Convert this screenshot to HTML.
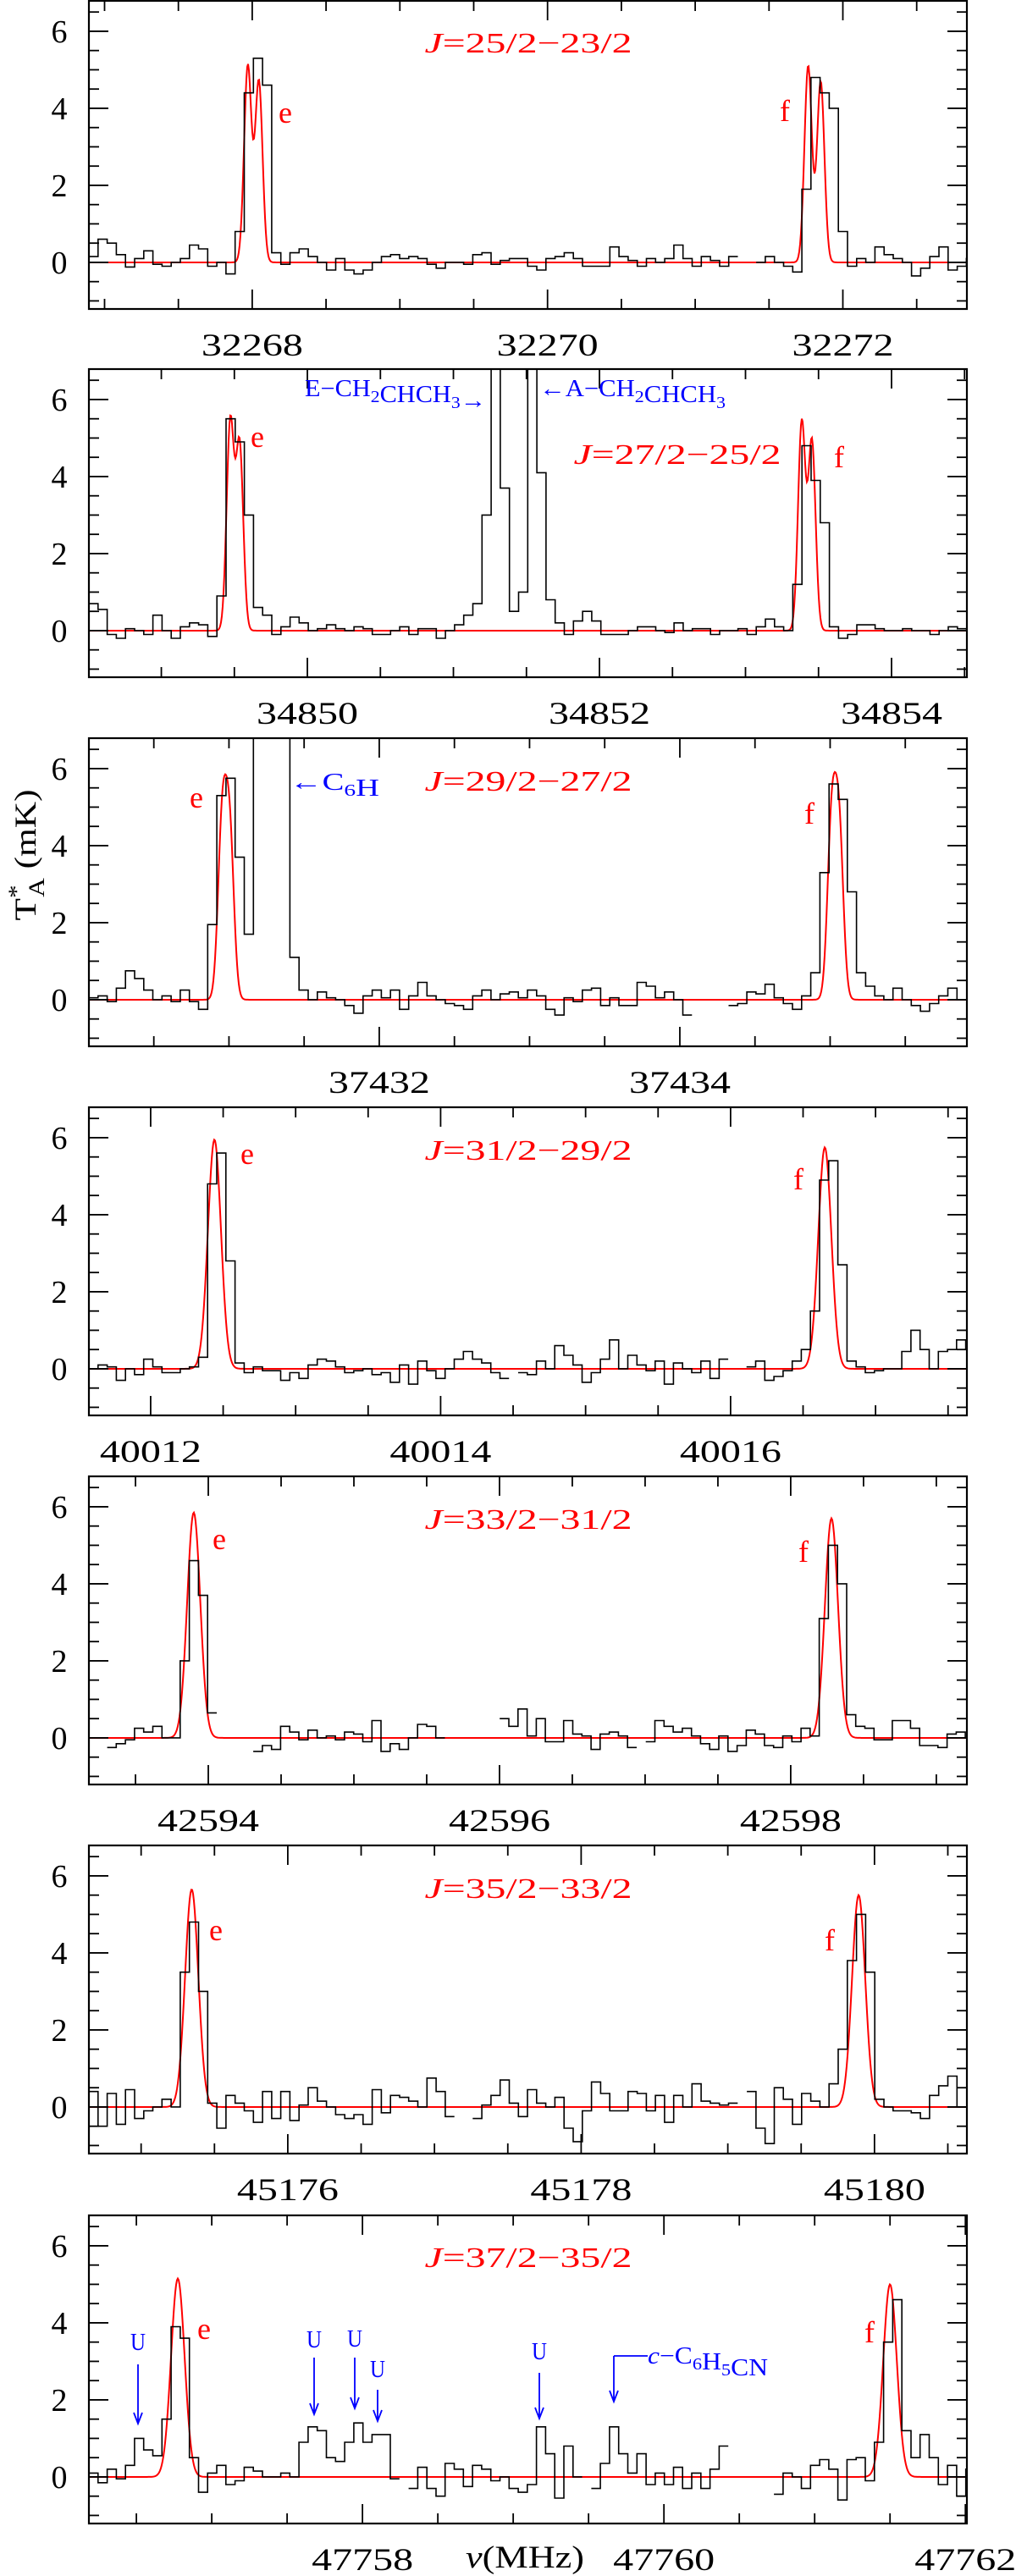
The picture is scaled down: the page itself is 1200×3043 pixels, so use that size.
<!DOCTYPE html>
<html><head><meta charset="utf-8"><title>Spectra</title>
<style>html,body{margin:0;padding:0;background:#fff;}svg{display:block;}</style>
</head><body>
<svg id="chart" xmlns="http://www.w3.org/2000/svg" width="1200" height="3043" viewBox="0 0 1200 3043" font-family="'Liberation Serif', serif">
<rect x="0" y="0" width="1200" height="3043" fill="#fff"/>
</svg>
<script>
// ---------- data ----------
const p1Values=[0.15,0.6,0.5,0.2,-0.12,0.1,0.3,-0.05,-0.1,0.0,0.1,0.45,0.35,-0.1,0.0,-0.3,0.8,4.4,5.3,4.6,0.25,-0.05,0.25,0.35,0.15,0.0,-0.2,0.1,-0.2,-0.3,-0.2,0.0,0.15,0.2,0.1,0.15,0.1,-0.05,-0.15,0.0,0.0,-0.05,0.2,0.25,-0.05,0.05,0.1,0.1,-0.1,-0.2,0.1,0.15,0.25,0.1,-0.1,-0.1,-0.1,0.4,0.15,0.05,-0.1,0.1,0.0,0.1,0.45,0.1,-0.1,0.15,0.05,-0.1,0.15,null,null,0.0,0.15,0.0,-0.1,-0.25,1.9,4.8,4.4,4.0,0.8,-0.1,0.1,0.0,0.4,0.2,0.1,0.0,-0.35,-0.15,0.15,0.4,-0.2,-0.1,0.1];
const p2Values=[0.7,0.55,-0.1,-0.2,0.05,0.0,-0.1,0.4,0.0,-0.2,0.1,0.2,0.15,-0.15,0.9,5.5,4.9,3.0,0.6,0.4,-0.1,0.1,0.35,0.2,0.0,0.05,0.15,0.05,0.0,0.1,0.05,-0.1,-0.1,0.0,0.1,-0.1,0.05,0.05,-0.2,0.0,0.15,0.4,0.7,3.0,8.0,3.7,0.5,1.0,8.0,4.1,0.8,0.2,-0.1,0.25,0.5,0.25,-0.1,-0.1,-0.1,0.0,0.1,0.1,0.0,-0.05,0.2,0.0,0.05,0.05,-0.1,0.0,0.0,0.05,-0.1,0.1,0.3,0.1,0.0,1.2,4.8,3.9,2.8,0.1,-0.2,-0.1,0.15,0.15,0.05,0.0,0.0,0.05,0.0,0.0,-0.1,0.0,0.1,0.05,0.0];
const p3Values=[0.05,0.1,-0.05,0.3,0.75,0.55,0.25,0.0,0.1,-0.05,0.25,-0.05,-0.25,1.95,5.3,5.75,3.7,1.7,8.0,8.0,8.0,8.0,1.1,0.25,0.0,0.2,0.05,0.0,-0.15,-0.35,0.1,0.25,0.05,0.25,-0.25,0.1,0.45,0.1,0.0,-0.1,-0.15,-0.25,0.1,0.25,0.0,0.15,0.2,0.05,0.25,0.1,-0.25,-0.4,0.05,-0.05,0.25,0.3,-0.15,0.05,-0.15,-0.15,0.45,0.35,0.05,0.2,0.0,-0.4,null,null,null,null,-0.15,-0.1,0.2,0.15,0.4,0.05,-0.1,-0.25,0.1,0.7,3.3,5.6,5.2,2.8,0.7,0.35,0.1,0.0,0.3,0.0,-0.15,-0.3,-0.1,0.1,0.3,0.0,0.0];
const p4Values=[0.0,0.1,0.05,-0.3,0.0,-0.15,0.25,0.05,-0.1,-0.1,0.0,0.05,0.3,4.8,5.6,2.8,0.15,-0.1,0.05,-0.05,-0.05,-0.3,-0.1,-0.25,0.1,0.25,0.2,0.05,-0.1,-0.05,0.0,-0.15,-0.1,-0.35,0.1,-0.4,0.2,-0.05,-0.25,0.0,0.25,0.45,0.25,0.15,-0.1,-0.25,null,-0.1,-0.15,0.2,0.0,0.6,0.35,0.1,-0.35,-0.1,0.25,0.75,0.0,0.35,0.1,-0.05,0.2,-0.4,0.15,0.0,-0.1,0.2,-0.25,0.25,null,null,0.05,0.2,-0.3,-0.2,-0.05,0.2,0.5,1.5,4.9,5.4,2.7,0.2,0.05,-0.1,-0.05,0.0,0.0,0.45,1.0,0.5,0.0,0.45,0.5,0.75,0.5];
const p5Values=[null,null,-0.25,-0.15,-0.05,0.25,0.15,0.3,0.0,0.0,2.0,4.6,3.7,0.65,null,null,null,null,-0.35,-0.2,-0.3,0.3,0.15,-0.05,0.2,0.0,0.05,-0.05,0.15,0.1,-0.1,0.45,-0.35,-0.15,-0.3,0.0,0.35,0.3,0.0,null,null,null,null,null,null,0.5,0.3,0.75,0.05,0.5,-0.1,-0.1,0.45,0.1,0.05,-0.3,0.1,0.15,0.05,-0.25,null,-0.1,0.45,0.3,0.15,0.25,0.05,-0.15,-0.3,0.05,-0.35,-0.2,0.2,0.1,-0.2,-0.25,0.05,-0.1,0.25,0.05,3.1,5.0,4.0,0.6,0.3,0.25,-0.05,-0.05,0.45,0.45,0.25,-0.2,-0.2,-0.25,0.1,0.15,0.0];
const p6Values=[0.4,-0.5,0.35,-0.45,0.45,-0.3,-0.1,0.0,0.2,0.0,3.5,4.8,3.0,0.1,-0.55,0.3,0.1,-0.1,-0.4,0.4,-0.3,0.4,-0.35,0.05,0.5,0.15,0.0,-0.2,-0.3,-0.2,-0.45,0.45,-0.15,0.3,0.25,0.15,0.0,0.75,0.4,-0.25,null,null,-0.3,0.05,0.3,0.7,0.1,-0.25,0.45,0.1,0.0,0.25,-0.55,-0.9,-0.1,0.65,0.35,-0.1,-0.1,0.4,0.35,-0.1,0.3,-0.4,0.3,0.0,0.6,0.15,0.1,0.05,0.1,null,0.4,-0.55,-0.95,0.5,0.2,-0.45,0.35,0.15,0.0,0.6,1.5,3.8,5.0,3.5,0.2,0.0,-0.1,-0.1,-0.15,-0.3,0.3,0.55,0.8,0.0];
const p7Values=[0.1,-0.15,0.2,-0.05,0.3,1.0,0.7,0.55,1.5,3.9,3.6,0.5,-0.4,0.1,0.3,-0.2,-0.1,0.25,0.15,0.0,0.0,0.1,0.0,0.9,1.3,1.2,0.5,0.4,0.9,1.4,0.9,1.1,1.1,-0.05,null,-0.3,0.25,-0.3,-0.5,0.35,0.2,-0.25,0.3,0.2,-0.1,0.0,-0.3,-0.4,-0.2,1.3,0.6,-0.55,0.8,0.0,null,-0.3,0.35,1.3,0.6,0.1,0.6,-0.2,0.1,-0.2,0.25,-0.3,0.1,-0.3,0.2,0.8,null,null,null,null,null,-0.45,0.1,0.0,-0.3,0.3,0.45,0.2,-0.6,0.45,0.5,-0.1,0.9,3.5,4.6,1.2,0.5,1.1,0.5,-0.2,0.3,-0.5,0.2];

// axis domains (MHz), channel widths (MHz)
const xMins=[32266.894,34848.504,37430.068,40011.574,42593.18,45174.644,47756.185];
const xMaxs=[32272.84,34854.516,37435.91,40017.63,42599.21,45180.63,47762.01];
const chanWidths=[0.0619,0.0626,0.0608,0.0630,0.0627,0.0623,0.0606];
const tickLabels=[[32268,32270,32272],[34850,34852,34854],[37432,37434],[40012,40014,40016],[42594,42596,42598],[45176,45178,45180],[47758,47760,47762]];
const transitions=['25/2\u221223/2','27/2\u221225/2','29/2\u221227/2','31/2\u221229/2','33/2\u221231/2','35/2\u221233/2','37/2\u221235/2'];
// Gaussian fit components: centers (MHz), amplitudes (mK), sigma (MHz)
const fitCenters=[[32267.97,32268.045,32271.765,32271.85],[34849.472,34849.536,34853.385,34853.455],[37430.955,37431.005,37435.01,37435.06],[40012.44,40016.65],[42593.90,42598.28],[45175.345,45179.892],[47756.775,47761.50]];
const fitAmps=[[5.1,4.7,5.1,4.7],[5.4,4.8,5.4,4.9],[4.5,4.2,4.5,4.3],[5.95,5.75],[5.85,5.7],[5.65,5.5],[5.15,5.0]];
const fitSigmas=[0.025,0.025,0.028,0.045,0.045,0.045,0.045];
const yTickLabels=[0,2,4,6];

// ---------- layout ----------
const NS='http://www.w3.org/2000/svg';
const svg=document.getElementById('chart');
const L=105,R=1142,H=364;
const TOPS=[1,436,872,1308,1744,2180,2617];
const YMIN=-1.21,YMAX=6.79;
const eLabelPos=[[337,145],[304,528],[232,954],[292,1375],[259,1830],[255,2292],[241,2763]];
const fLabelPos=[[927,143],[991,552],[956,973],[943,1405],[949,1845],[980,2304],[1027,2767]];
const jLabelPos=[[624,62],[800,548],[624,934],[624,1370],[624,1806],[624,2242],[624,2678]];

function mk(tag,attrs,parent){const el=document.createElementNS(NS,tag);for(const k in attrs)el.setAttribute(k,attrs[k]);(parent||svg).appendChild(el);return el;}

for(let k=0;k<7;k++){
  const top=TOPS[k],bot=top+H;
  const xmin=xMins[k],xmax=xMaxs[k];
  const xs=f=>L+(f-xmin)/(xmax-xmin)*(R-L);
  const ys=v=>top+(YMAX-v)/(YMAX-YMIN)*H;
  const g=mk('g',{});
  
  
  const cp=mk('clipPath',{id:'clip'+k},g);
  mk('rect',{x:L,y:top,width:R-L,height:H},cp);

  // baseline fit (red)
  let d='';
  for(let px=L;px<=R;px+=1){
    const f=xmin+(px-L)/(R-L)*(xmax-xmin);
    let s=0;for(let j=0;j<fitCenters[k].length;j++){const u=(f-fitCenters[k][j])/fitSigmas[k];s+=fitAmps[k][j]*Math.exp(-0.5*u*u);}
    d+=(px===L?'M':'L')+px.toFixed(1)+' '+ys(s).toFixed(2);
  }
  const fit=mk('path',{d:d,fill:'none',stroke:'#ff0000','stroke-width':2,'clip-path':'url(#clip'+k+')'},g);
  
  

  // histogram data
  const vals=[p1Values,p2Values,p3Values,p4Values,p5Values,p6Values,p7Values][k];
  let hd='',open=false;
  for(let i=0;i<vals.length;i++){
    const v=vals[i];
    if(v===null){open=false;continue;}
    const x0=xs(xmin+i*chanWidths[k]),x1=xs(xmin+(i+1)*chanWidths[k]),y=ys(v);
    hd+=(open?'L':'M')+x0.toFixed(1)+' '+y.toFixed(1)+'L'+x1.toFixed(1)+' '+y.toFixed(1);
    open=true;
  }
  const hist=mk('path',{d:hd,fill:'none',stroke:'#000','stroke-width':1.6,'clip-path':'url(#clip'+k+')'},g);
  
  

  // frame
  const fr=mk('rect',{x:L,y:top,width:R-L,height:H,fill:'none',stroke:'#000','stroke-width':2.2},g);
  
  

  // y ticks
  for(let v=-1;v<=6.5;v+=0.5){
    const major=Math.abs(v-Math.round(v/2)*2)<1e-6;
    const len=major?23:12,y=ys(v);
    mk('line',{x1:L,y1:y,x2:L+len,y2:y,stroke:'#000','stroke-width':1.8},g);
    mk('line',{x1:R,y1:y,x2:R-len,y2:y,stroke:'#000','stroke-width':1.8},g);
  }
  for(const v of yTickLabels){
    const t=mk('text',{x:70,y:ys(v)+13,'font-size':38,'text-anchor':'middle',fill:'#000'},g);
    t.textContent=String(v);
    
    
  }
  // x ticks
  for(let f=Math.ceil(xmin*2)/2;f<=xmax;f+=0.5){
    const major=Math.abs(f/2-Math.round(f/2))<1e-6;
    const len=major?23:12,x=xs(f);
    mk('line',{x1:x,y1:top,x2:x,y2:top+len,stroke:'#000','stroke-width':1.8},g);
    mk('line',{x1:x,y1:bot,x2:x,y2:bot-len,stroke:'#000','stroke-width':1.8},g);
  }
  for(const f of tickLabels[k]){
    const t=mk('text',{x:xs(f),y:bot+55,'font-size':37,'text-anchor':'middle',textLength:120,lengthAdjust:'spacingAndGlyphs',fill:'#000'},g);
    t.textContent=String(f);
    
    
  }
  // transition label
  const jl=mk('text',{x:jLabelPos[k][0],y:jLabelPos[k][1],'font-size':34,'text-anchor':'middle',textLength:245,lengthAdjust:'spacingAndGlyphs',fill:'#ff0000'},g);
  jl.innerHTML='<tspan font-style="italic">J</tspan>='+transitions[k];
  
  
  const el=mk('text',{x:eLabelPos[k][0],y:eLabelPos[k][1],'font-size':36,'text-anchor':'middle',fill:'#ff0000'},g);
  el.textContent='e';
  
  
  const fl=mk('text',{x:fLabelPos[k][0],y:fLabelPos[k][1],'font-size':36,'text-anchor':'middle',fill:'#ff0000'},g);
  fl.textContent='f';
  
  
}

// ---------- annotations ----------
function arrowDown(x,y1,y2,name){
  const a=mk('path',{d:'M'+x+' '+y1+'L'+x+' '+y2+'M'+(x-5)+' '+(y2-13)+'L'+x+' '+y2+'L'+(x+5)+' '+(y2-13),fill:'none',stroke:'#0000ff','stroke-width':1.8});
  
  
}
function blueText(x,y,html,len,name,anchor){
  const t=mk('text',{x:x,y:y,'font-size':28,fill:'#0000ff','text-anchor':anchor||'start',textLength:len,lengthAdjust:'spacingAndGlyphs'});
  t.innerHTML=html;
  
  
}
const sub=s=>'<tspan dy="7" font-size="20">'+s+'</tspan><tspan dy="-7"></tspan>';
blueText(360,468,'E\u2212CH'+sub('2')+'CHCH'+sub('3')+'\u2192',214,'e-ch2chch3-label');
blueText(637,468,'\u2190A\u2212CH'+sub('2')+'CHCH'+sub('3'),220,'a-ch2chch3-label');
blueText(342,933,'\u2190C'+sub('6')+'H',106,'c6h-label');
// panel 7 U lines
const uX=[163,371,419,446,637];
const uLabelY=[2776,2773,2772,2808,2787];
const uTop=[2793,2785,2785,2823,2803];
const uTip=[2863,2852,2845,2860,2857];
for(let i=0;i<uX.length;i++){
  blueText(uX[i],uLabelY[i],'U',18,'unidentified-line-label','middle');
  arrowDown(uX[i],uTop[i],uTip[i],'unidentified-line-arrow');
}
const cl=mk('path',{d:'M725 2783L765 2783',fill:'none',stroke:'#0000ff','stroke-width':1.8});


arrowDown(725,2783,2837,'c6h5cn-arrow');
blueText(765,2792,'<tspan font-style="italic">c</tspan>\u2212C'+sub('6')+'H'+sub('5')+'CN',142,'c6h5cn-label');

// axis titles
const yt=mk('text',{x:0,y:0,'font-size':36,'text-anchor':'middle',textLength:155,lengthAdjust:'spacingAndGlyphs',transform:'translate(42,1010) rotate(-90)',fill:'#000'});
yt.innerHTML='T<tspan dy="-14" font-size="26">*</tspan><tspan dy="24" dx="-12" font-size="26">A</tspan><tspan dy="-10"> (mK)</tspan>';


const xt=mk('text',{x:620,y:3033,'font-size':37,'text-anchor':'middle',textLength:140,lengthAdjust:'spacingAndGlyphs',fill:'#000'});
xt.innerHTML='<tspan font-style="italic">\u03bd</tspan>(MHz)';


</script>
</body></html>
